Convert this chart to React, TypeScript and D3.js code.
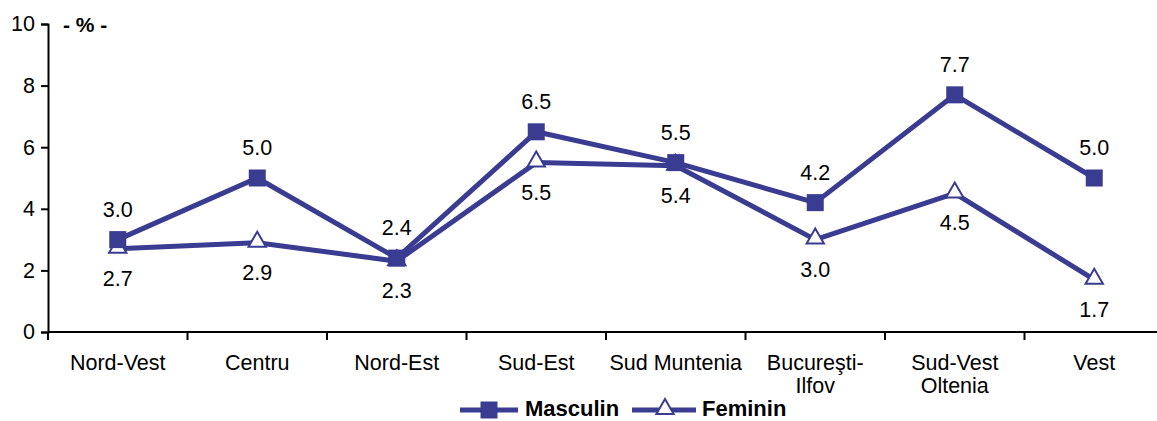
import React, { useEffect, useRef } from 'react';
import * as d3 from 'd3';

const regions = ['Nord-Vest', 'Centru', 'Nord-Est', 'Sud-Est', 'Sud Muntenia', 'Bucureşti-\nIlfov', 'Sud-Vest\nOltenia', 'Vest'];
const masculin = [3.0, 5.0, 2.4, 6.5, 5.5, 4.2, 7.7, 5.0];
const feminin = [2.7, 2.9, 2.3, 5.5, 5.4, 3.0, 4.5, 1.7];
const yTicks = [0, 2, 4, 6, 8, 10];

const COLOR = '#393c90';
const FONT = 'Liberation Sans, Arial, sans-serif';
const FS = 21.5;

const App: React.FC = () => {
  const svgRef = useRef<SVGSVGElement | null>(null);

  useEffect(() => {
    if (!svgRef.current) return;
    const svg = d3.select(svgRef.current);
    svg.selectAll('*').remove();

    const width = 1157;
    const height = 421;
    const margin = { left: 48, right: -7, top: 24, bottom: 89 };

    const x = d3.scaleBand<number>()
      .domain(regions.map((_, i) => i))
      .range([margin.left, width - margin.right])
      .padding(0);

    const y = d3.scaleLinear()
      .domain([0, 10])
      .range([height - margin.bottom, margin.top]);

    const cx = (i: number) => x(i)! + x.bandwidth() / 2;

    // y axis
    const yAxis = svg.append('g')
      .attr('transform', `translate(${margin.left},0)`)
      .call(d3.axisLeft(y).tickValues(yTicks).tickFormat(d3.format('d')).tickSize(7).tickPadding(6));
    yAxis.select('.domain').attr('stroke', '#000').attr('stroke-width', 2);
    yAxis.selectAll('.tick line').attr('stroke', '#000').attr('stroke-width', 2);
    yAxis.selectAll('.tick text').attr('font-family', FONT).attr('font-size', FS).attr('fill', '#000');

    // x axis
    const xAxisG = svg.append('g').attr('transform', `translate(0,${y(0)})`);
    xAxisG.append('line')
      .attr('x1', margin.left).attr('x2', width)
      .attr('stroke', '#000').attr('stroke-width', 2);
    const bounds = d3.range(regions.length + 1).map(i => margin.left + i * x.bandwidth());
    xAxisG.selectAll('line.tk').data(bounds).enter().append('line')
      .attr('class', 'tk')
      .attr('x1', d => d).attr('x2', d => d)
      .attr('y1', 0).attr('y2', 8)
      .attr('stroke', '#000').attr('stroke-width', 2);

    const xl = xAxisG.selectAll('text.cat').data(regions).enter().append('text')
      .attr('class', 'cat')
      .attr('x', (_, i) => cx(i))
      .attr('y', 38)
      .attr('text-anchor', 'middle')
      .attr('font-family', FONT).attr('font-size', FS);
    xl.each(function (d) {
      const parts = d.split('\n');
      const t = d3.select(this);
      parts.forEach((p, k) => {
        t.append('tspan').attr('x', t.attr('x')).attr('dy', k === 0 ? 0 : 23).text(p);
      });
    });

    // unit label
    svg.append('text')
      .attr('x', 63).attr('y', 32)
      .attr('font-family', FONT).attr('font-size', 21).attr('font-weight', 'bold')
      .text('- % -');

    const line = d3.line<number>()
      .x((_, i) => cx(i))
      .y(d => y(d));

    svg.append('path').datum(feminin)
      .attr('fill', 'none').attr('stroke', COLOR).attr('stroke-width', 5)
      .attr('stroke-linejoin', 'round').attr('d', line);
    svg.append('path').datum(masculin)
      .attr('fill', 'none').attr('stroke', COLOR).attr('stroke-width', 5)
      .attr('stroke-linejoin', 'round').attr('d', line);

    const tri = d3.symbol().type(d3.symbolTriangle).size(130);
    const sq = 17;

    svg.selectAll('path.fem').data(feminin).enter().append('path')
      .attr('class', 'fem')
      .attr('d', tri)
      .attr('transform', (d, i) => `translate(${cx(i)},${y(d) - 1})`)
      .attr('fill', '#fff').attr('stroke', COLOR).attr('stroke-width', 2);

    svg.selectAll('rect.mas').data(masculin).enter().append('rect')
      .attr('class', 'mas')
      .attr('x', (_, i) => cx(i) - sq / 2)
      .attr('y', d => y(d) - sq / 2)
      .attr('width', sq).attr('height', sq)
      .attr('fill', COLOR);

    // value labels
    svg.selectAll('text.ml').data(masculin).enter().append('text')
      .attr('class', 'ml')
      .attr('x', (_, i) => cx(i))
      .attr('y', d => y(d) - 23)
      .attr('text-anchor', 'middle')
      .attr('font-family', FONT).attr('font-size', FS)
      .text(d => d.toFixed(1));

    svg.selectAll('text.fl').data(feminin).enter().append('text')
      .attr('class', 'fl')
      .attr('x', (_, i) => cx(i))
      .attr('y', d => y(d) + 37)
      .attr('text-anchor', 'middle')
      .attr('font-family', FONT).attr('font-size', FS)
      .text(d => d.toFixed(1));

    // legend
    const lg = svg.append('g').attr('transform', 'translate(0,410)');
    lg.append('line').attr('x1', 460).attr('x2', 518).attr('stroke', COLOR).attr('stroke-width', 5);
    lg.append('rect').attr('x', 489 - sq / 2).attr('y', -sq / 2).attr('width', sq).attr('height', sq).attr('fill', COLOR);
    lg.append('text').attr('x', 525).attr('y', 6)
      .attr('font-family', FONT).attr('font-size', 22).attr('font-weight', 'bold').text('Masculin');
    lg.append('line').attr('x1', 632).attr('x2', 696).attr('stroke', COLOR).attr('stroke-width', 5);
    lg.append('path').attr('d', tri).attr('transform', 'translate(665,-1)')
      .attr('fill', '#fff').attr('stroke', COLOR).attr('stroke-width', 2);
    lg.append('text').attr('x', 702).attr('y', 6)
      .attr('font-family', FONT).attr('font-size', 22).attr('font-weight', 'bold').text('Feminin');
  }, []);

  return (
    <svg ref={svgRef} width={1157} height={421}
      style={{ position: 'absolute', left: 0, top: 0, background: '#fff' }} />
  );
};

export default App;
